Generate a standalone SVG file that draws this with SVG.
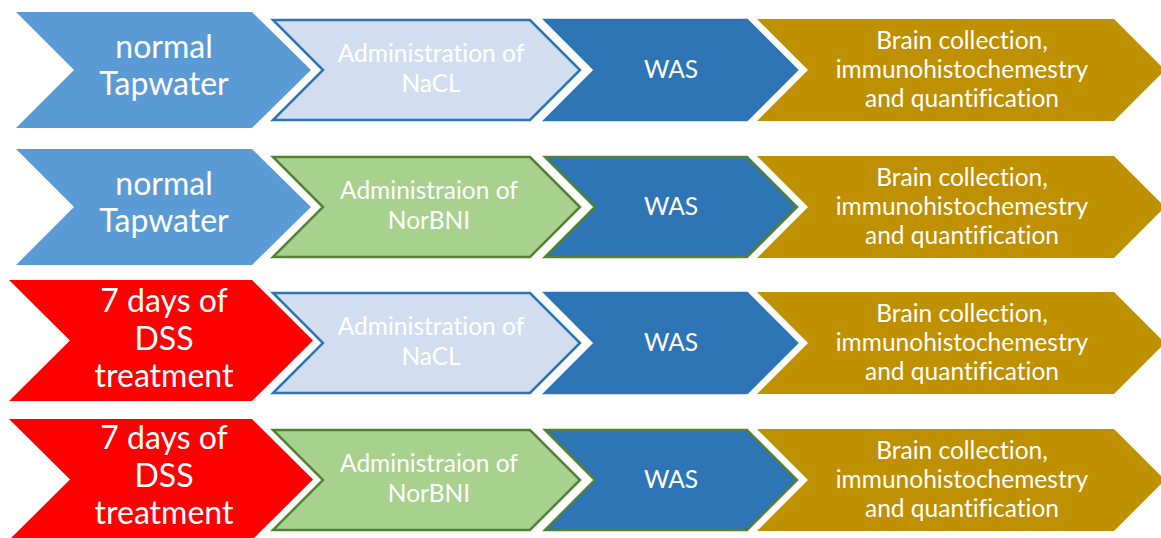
<svg xmlns="http://www.w3.org/2000/svg" width="1161" height="538" viewBox="0 0 1161 538">
  <style>
    text { font-family: Lato, "Liberation Sans", sans-serif; fill: #ffffff; text-anchor: middle; font-variant-ligatures: none; font-feature-settings: "liga" 0; }
    .big { font-size: 32px; }
    .mid { font-size: 24.5px; }
    .tap { fill: #5B9BD5; }
    .dss { fill: #FF0000; }
    .nacl { fill: #D2DEEF; stroke: #2E75B6; stroke-width: 2.5; }
    .nor { fill: #A9D18E; stroke: #548235; stroke-width: 2.5; }
    .was { fill: #2E75B6; stroke: #2E75B6; stroke-width: 2.5; }
    .was-g { fill: #2E75B6; stroke: #548235; stroke-width: 2.5; }
    .gold { fill: #BF9000; }
  </style>
  <defs>
    <!-- chevron outlines, each drawn around its own row centre (y = 0) -->
    <polygon id="chev-start" points="16,-58 252,-58 311,0 252,58 16,58 74,0"/>
    <polygon id="chev-red" points="9,-60.5 252,-60.5 313,0 252,60.5 9,60.5 70,0"/>
    <polygon id="chev-drug" points="273,-50 530,-50 580,0 530,50 273,50 323,0"/>
    <polygon id="chev-was" points="545,-50 747,-50 797,0 747,50 545,50 595,0"/>
    <polygon id="chev-brain" points="757,-51 1114,-51 1165,0 1114,51 757,51 808,0"/>
  </defs>

  <!-- row 1: tap water + NaCl -->
  <g id="row1" transform="translate(0,70)">
    <g id="r1-start">
      <use href="#chev-start" class="tap"/>
      <text class="big" x="164" y="-11.7">normal</text>
      <text class="big" x="164" y="25">Tapwater</text>
    </g>
    <g id="r1-drug">
      <use href="#chev-drug" class="nacl"/>
      <text class="mid" x="431" y="-7.7">Administration of</text>
      <text class="mid" x="431" y="21.7">NaCL</text>
    </g>
    <g id="r1-was">
      <use href="#chev-was" class="was"/>
      <text class="mid" x="671" y="7.7">WAS</text>
    </g>
    <g id="r1-brain">
      <use href="#chev-brain" class="gold"/>
      <text class="mid" x="962" y="-21">Brain collection,</text>
      <text class="mid" x="962" y="8.3">immunohistochemestry</text>
      <text class="mid" x="962" y="36.7">and quantification</text>
    </g>
  </g>

  <!-- row 2: tap water + norBNI -->
  <g id="row2" transform="translate(0,207)">
    <g id="r2-start">
      <use href="#chev-start" class="tap"/>
      <text class="big" x="164" y="-11.7">normal</text>
      <text class="big" x="164" y="25">Tapwater</text>
    </g>
    <g id="r2-drug">
      <use href="#chev-drug" class="nor"/>
      <text class="mid" x="429" y="-7.7">Administraion of</text>
      <text class="mid" x="429" y="21.7">NorBNI</text>
    </g>
    <g id="r2-was">
      <use href="#chev-was" class="was-g"/>
      <text class="mid" x="671" y="7.7">WAS</text>
    </g>
    <g id="r2-brain">
      <use href="#chev-brain" class="gold"/>
      <text class="mid" x="962" y="-21">Brain collection,</text>
      <text class="mid" x="962" y="8.3">immunohistochemestry</text>
      <text class="mid" x="962" y="36.7">and quantification</text>
    </g>
  </g>

  <!-- row 3: DSS + NaCl -->
  <g id="row3" transform="translate(0,343)">
    <use href="#chev-red" class="dss" y="-2.5"/>
    <g id="r3-drug">
      <use href="#chev-drug" class="nacl"/>
      <text class="mid" x="431" y="-7.7">Administration of</text>
      <text class="mid" x="431" y="21.7">NaCL</text>
    </g>
    <g id="r3-was">
      <use href="#chev-was" class="was"/>
      <text class="mid" x="671" y="7.7">WAS</text>
    </g>
    <g id="r3-brain">
      <use href="#chev-brain" class="gold"/>
      <text class="mid" x="962" y="-21">Brain collection,</text>
      <text class="mid" x="962" y="8.3">immunohistochemestry</text>
      <text class="mid" x="962" y="36.7">and quantification</text>
    </g>
    <g id="r3-start">
      <text class="big" x="164" y="-31.3">7 days of</text>
      <text class="big" x="164" y="7">DSS</text>
      <text class="big" x="164" y="43.7">treatment</text>
    </g>
  </g>

  <!-- row 4: DSS + norBNI -->
  <g id="row4" transform="translate(0,480)">
    <use href="#chev-red" class="dss" y="-0.5"/>
    <g id="r4-drug">
      <use href="#chev-drug" class="nor"/>
      <text class="mid" x="429" y="-7.7">Administraion of</text>
      <text class="mid" x="429" y="21.7">NorBNI</text>
    </g>
    <g id="r4-was">
      <use href="#chev-was" class="was-g"/>
      <text class="mid" x="671" y="7.7">WAS</text>
    </g>
    <g id="r4-brain">
      <use href="#chev-brain" class="gold"/>
      <text class="mid" x="962" y="-21">Brain collection,</text>
      <text class="mid" x="962" y="8.3">immunohistochemestry</text>
      <text class="mid" x="962" y="36.7">and quantification</text>
    </g>
    <g id="r4-start">
      <text class="big" x="164" y="-31.3">7 days of</text>
      <text class="big" x="164" y="7">DSS</text>
      <text class="big" x="164" y="43.7">treatment</text>
    </g>
  </g>
</svg>
